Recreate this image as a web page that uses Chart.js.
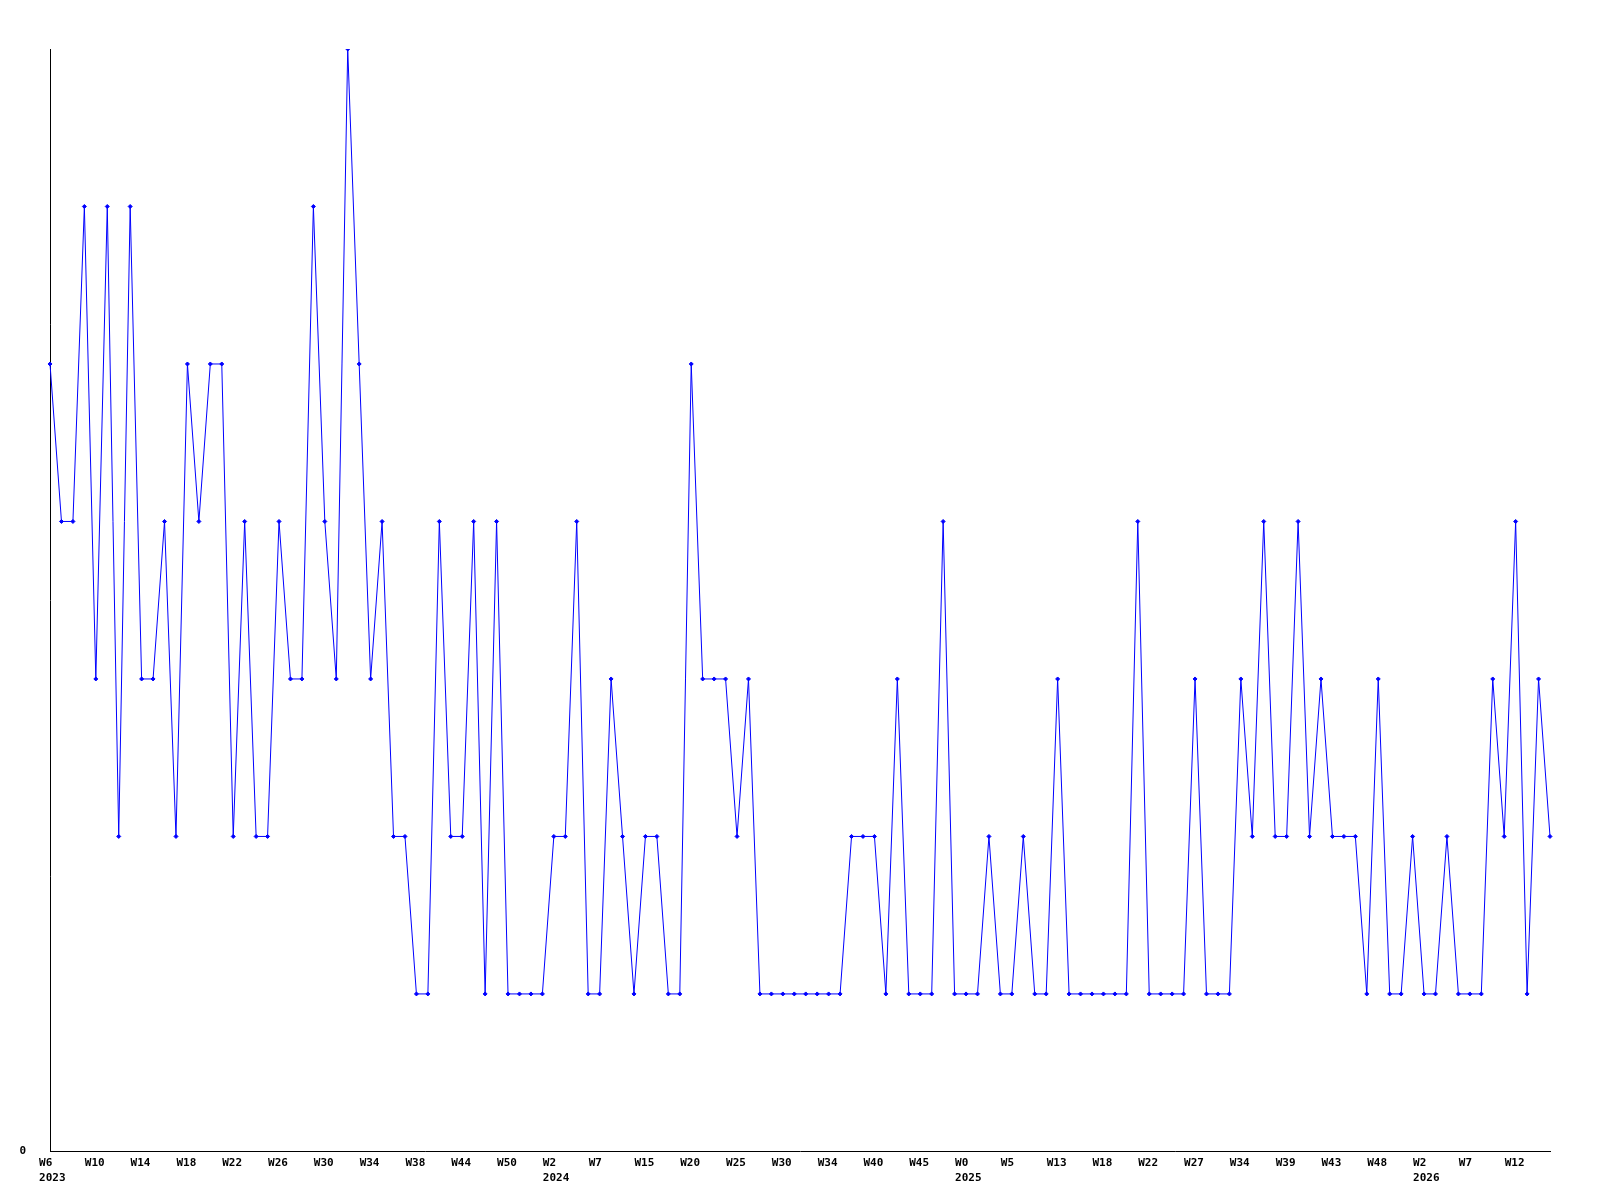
<!DOCTYPE html>
<html>
<head>
<meta charset="utf-8">
<title>Weekly counts</title>
<script src="https://cdn.jsdelivr.net/npm/chart.js@4/dist/chart.umd.min.js"></script>
<style>
  html, body { margin: 0; padding: 0; background: #fff; }
  canvas { display: block; }
</style>
</head>
<body>
<canvas id="weekChart" width="1600" height="1200"></canvas>
<script>
// weekly values, one per point (132 weeks)
const values = [
    5, 4, 4, 6, 3, 6, 2, 6, 3, 3, 4, 2, 5, 4, 5, 5, 2, 4, 2, 2,
    4, 3, 3, 6, 4, 3, 7, 5, 3, 4, 2, 2, 1, 1, 4, 2, 2, 4, 1, 4,
    1, 1, 1, 1, 2, 2, 4, 1, 1, 3, 2, 1, 2, 2, 1, 1, 5, 3, 3, 3,
    2, 3, 1, 1, 1, 1, 1, 1, 1, 1, 2, 2, 2, 1, 3, 1, 1, 1, 4, 1,
    1, 1, 2, 1, 1, 2, 1, 1, 3, 1, 1, 1, 1, 1, 1, 4, 1, 1, 1, 1,
    3, 1, 1, 1, 3, 2, 4, 2, 2, 4, 2, 3, 2, 2, 2, 1, 3, 1, 1, 2,
    1, 1, 2, 1, 1, 1, 3, 2, 4, 1, 3, 2
];

// every 4th week gets a label
const weekTicks = [
    "W6", "W10", "W14", "W18", "W22", "W26", "W30", "W34", "W38", "W44", "W50",
    "W2", "W7", "W15", "W20", "W25", "W30", "W34", "W40", "W45",
    "W0", "W5", "W13", "W18", "W22", "W27", "W34", "W39", "W43", "W48",
    "W2", "W7", "W12"
];
const yearTicks = { 0: "2023", 11: "2024", 20: "2025", 30: "2026" };
const tickEvery = 4;

const categories = values.map((_, i) => i);

const monoFont = { family: "'DejaVu Sans Mono', monospace", size: 11, weight: "bold", lineHeight: 1.39 };

new Chart(document.getElementById("weekChart"), {
    type: "line",
    data: {
        labels: categories,
        datasets: [{
            data: values,
            borderColor: "#0000ff",
            backgroundColor: "#0000ff",
            borderWidth: 1,
            tension: 0,
            pointStyle: "rectRot",
            pointRadius: 2,
            pointBorderWidth: 1,
            pointBackgroundColor: "#0000ff",
            pointBorderColor: "#0000ff",
            fill: false
        }]
    },
    options: {
        responsive: false,
        devicePixelRatio: 1,
        animation: false,
        // y box ends up wider than label + padding, hence the negative left
        layout: { padding: { top: 49, right: 50, bottom: 10, left: -4.6 } },
        plugins: {
            legend: { display: false },
            tooltip: { enabled: false }
        },
        scales: {
            x: {
                offset: false,
                grid: { display: false, drawTicks: false },
                border: { display: true, color: "#000", width: 1 },
                ticks: {
                    autoSkip: false,
                    maxRotation: 0,
                    minRotation: 0,
                    align: "start",
                    labelOffset: -11,
                    padding: 4,
                    color: "#000",
                    font: monoFont,
                    callback: function (value, index) {
                        if (index % tickEvery !== 0) return "";
                        const k = index / tickEvery;
                        const w = weekTicks[k];
                        if (w === undefined) return "";
                        return yearTicks[k] ? [w, yearTicks[k]] : w;
                    }
                }
            },
            y: {
                min: 0,
                max: 7,
                grid: { display: false, drawTicks: false },
                border: { display: true, color: "#000", width: 1 },
                ticks: {
                    stepSize: 1,
                    padding: 24,
                    color: "#000",
                    font: monoFont,
                    callback: function (value) {
                        return value === 0 ? "0" : "";
                    }
                }
            }
        }
    }
});
</script>
</body>
</html>
